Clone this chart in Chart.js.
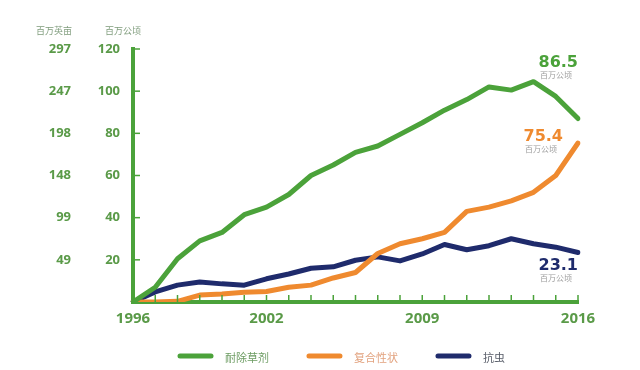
<!DOCTYPE html>
<html>
<head>
<meta charset="utf-8">
<script src="https://cdn.jsdelivr.net/npm/chart.js@4"></script>
<style>
  html, body { margin: 0; padding: 0; background: #fff; }
  #wrap { width: 640px; height: 370px; }
</style>
</head>
<body>
<div id="wrap"><canvas id="line-chart" width="640" height="370"></canvas></div>
<script>
const years = ['1996','1997','1998','1999','2000','2001','2002','2003','2004','2005','2006',
               '2007','2008','2009','2010','2011','2012','2013','2014','2015','2016'];
const yearLabels = ['1996', '2002', '2009', '2016'];
const herbicide = [0, 7, 20.5, 29, 33, 41.4, 45, 51, 60, 65, 71, 74, 79.5, 85, 91, 96, 102, 100.5, 104.5, 97.5, 87];
const stacked = [0, 0, 0.3, 3.3, 3.8, 4.6, 5, 7, 8, 11.4, 14, 23, 27.6, 30, 33, 43, 45, 48, 52, 60, 75.4];
const insect = [0, 4.8, 8, 9.5, 8.6, 8, 11, 13.3, 16, 16.7, 19.8, 21.4, 19.5, 22.8, 27.3, 24.8, 26.7, 30, 27.6, 26, 23.5];
const seriesNames = ['耐除草剂', '复合性状', '抗虫'];
const endLabels = ['86.5', '75.4', '23.1'];
const hectareTicks = [20, 40, 60, 80, 100, 120];
const acreTicks = ['49', '99', '148', '198', '247', '297'];

const GREEN = '#4ba23a';
const ORANGE = '#ef8a2f';
const NAVY = '#1f2b6c';
const TICK_GREEN = '#5a9a48';
const legendColors = ['#6c9c62', '#e2a27e', '#555a66'];

// 轴上的小刻度、单位、末端数值、图例
const extras = {
  id: 'extras',
  afterDatasetsDraw(chart) {
    const ctx = chart.ctx;
    const xs = chart.scales.x, ys = chart.scales.y;
    ctx.save();

    // 刻度线（朝内）
    ctx.strokeStyle = GREEN;
    ctx.lineWidth = 1.5;
    years.forEach((y, i) => {
      const px = xs.getPixelForValue(i);
      ctx.beginPath();
      ctx.moveTo(px, ys.bottom);
      ctx.lineTo(px, ys.bottom - 7);
      ctx.stroke();
    });
    hectareTicks.forEach(v => {
      const py = ys.getPixelForValue(v);
      ctx.beginPath();
      ctx.moveTo(xs.left, py);
      ctx.lineTo(xs.left + 7, py);
      ctx.stroke();
    });

    // 单位
    ctx.fillStyle = '#7f9c7c';
    ctx.font = '9px "Noto Sans CJK SC"';
    ctx.textAlign = 'center';
    ctx.textBaseline = 'middle';
    ctx.fillText('百万英亩', 54, 31);
    ctx.fillText('百万公顷', 123, 31);

    // 末端标注
    const colors = chart.data.datasets.map(d => d.borderColor);
    const offs = [[0, -56], [-15, -6], [0, 13]];
    chart.data.datasets.forEach((ds, i) => {
      const meta = chart.getDatasetMeta(i);
      const pt = meta.data[meta.data.length - 1];
      const x = pt.x + offs[i][0], y = pt.y + offs[i][1];
      ctx.textAlign = 'right';
      ctx.fillStyle = colors[i];
      ctx.font = 'bold 16px "DejaVu Sans"';
      ctx.fillText(endLabels[i], x, y);
      ctx.fillStyle = '#9a9a9a';
      ctx.font = '8px "Noto Sans CJK SC"';
      ctx.fillText('百万公顷', x - 6, y + 12);
    });

    // 图例
    ctx.font = '11px "Noto Sans CJK SC"';
    ctx.textAlign = 'left';
    const boxW = 35, gap = 12, spacing = 38, legendY = 356;
    let lx = 178;
    chart.data.datasets.forEach((ds, i) => {
      ctx.strokeStyle = ds.borderColor;
      ctx.lineWidth = 5;
      ctx.lineCap = 'round';
      ctx.beginPath();
      ctx.moveTo(lx + 2, legendY);
      ctx.lineTo(lx + boxW - 2, legendY);
      ctx.stroke();
      ctx.fillStyle = legendColors[i];
      ctx.fillText(ds.label, lx + boxW + gap, legendY + 2);
      lx += boxW + gap + ctx.measureText(ds.label).width + spacing;
    });
    ctx.restore();
  }
};

new Chart(document.getElementById('line-chart'), {
  type: 'line',
  data: {
    labels: years,
    datasets: [
      { label: seriesNames[0], data: herbicide, borderColor: GREEN, backgroundColor: GREEN },
      { label: seriesNames[1], data: stacked, borderColor: ORANGE, backgroundColor: ORANGE },
      { label: seriesNames[2], data: insect, borderColor: NAVY, backgroundColor: NAVY }
    ]
  },
  options: {
    responsive: false,
    animation: false,
    layout: { padding: { left: 32, right: 0, top: 49, bottom: 33 } },
    elements: {
      line: { borderWidth: 5, tension: 0, borderJoinStyle: 'round', borderCapStyle: 'round' },
      point: { radius: 0 }
    },
    scales: {
      x: {
        offset: false,
        grid: { display: false, drawTicks: false },
        border: { color: GREEN, width: 4 },
        afterFit: (s) => { s.height = 35; },
        ticks: {
          autoSkip: false,
          maxRotation: 0,
          padding: 8,
          color: TICK_GREEN,
          font: { family: 'Open Sans', weight: 'bold', size: 15 },
          callback: function (v) {
            const lab = this.getLabelForValue(v);
            return yearLabels.includes(lab) ? lab : '';
          }
        }
      },
      y: {
        position: 'left',
        weight: 0,
        min: 0,
        max: 120,
        grid: { display: false, drawTicks: false },
        border: { color: GREEN, width: 4 },
        afterBuildTicks: (s) => { s.ticks = hectareTicks.map(v => ({ value: v })); },
        afterFit: (s) => { s.width = 38; },
        ticks: {
          padding: 13,
          color: TICK_GREEN,
          font: { family: 'Open Sans', weight: 'bold', size: 13 }
        }
      },
      y2: {
        position: 'left',
        weight: 1,
        min: 0,
        max: 120,
        grid: { display: false, drawTicks: false },
        border: { display: false },
        afterBuildTicks: (s) => { s.ticks = hectareTicks.map(v => ({ value: v })); },
        afterFit: (s) => { s.width = 63; },
        ticks: {
          padding: 24,
          color: TICK_GREEN,
          font: { family: 'Open Sans', weight: 'bold', size: 13 },
          callback: (v) => acreTicks[hectareTicks.indexOf(v)]
        }
      },
      yR: {
        position: 'right',
        display: true,
        grid: { display: false, drawTicks: false },
        border: { display: false },
        ticks: { display: false },
        afterFit: (s) => { s.width = 62; }
      }
    },
    plugins: {
      tooltip: { enabled: false },
      legend: { display: false }
    }
  },
  plugins: [extras]
});
</script>
</body>
</html>
